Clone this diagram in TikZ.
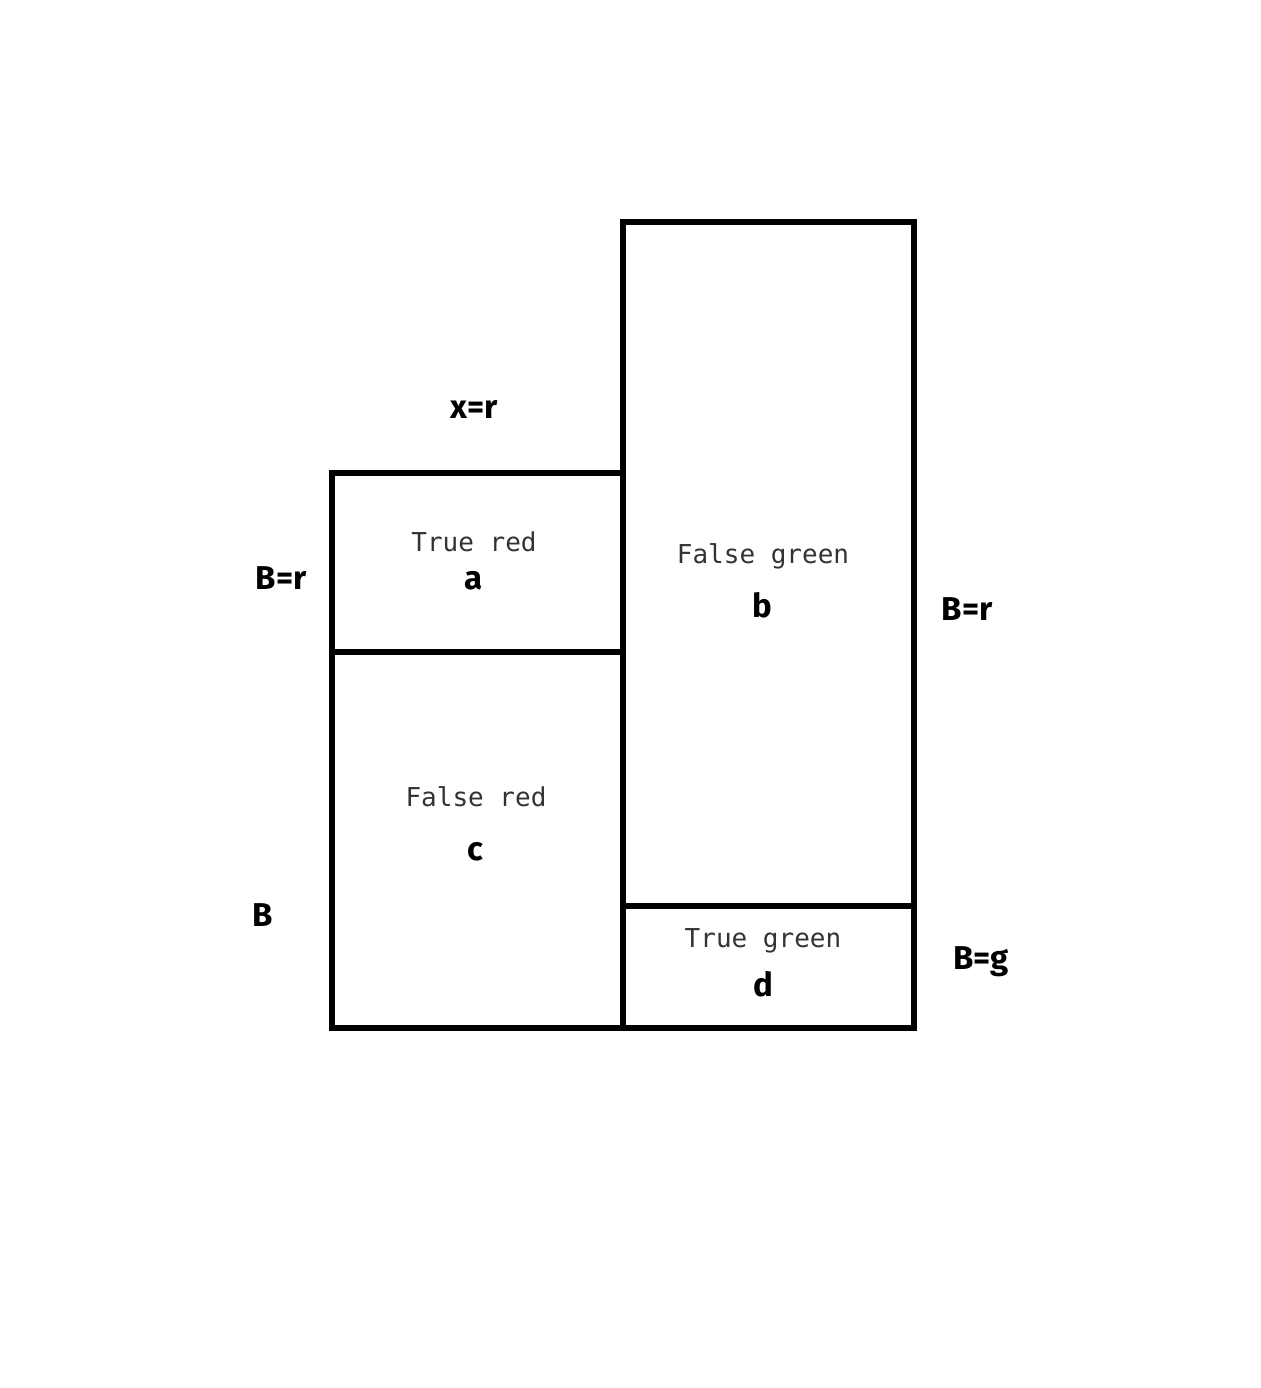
\documentclass[tikz,border=0pt]{standalone}
\usepackage{fontspec}
\newfontfamily\labelfont{Fira Sans}
\newfontfamily\cellfont{DejaVu Sans Mono}
\begin{document}
\begin{tikzpicture}[x=0.5pt,y=-0.5pt,
  cellbox/.style={line width=3pt, line join=miter},
  celltext/.style={anchor=base, inner sep=0pt, text=black!80, font=\cellfont\fontsize{13}{15}\selectfont},
  cellname/.style={anchor=base, inner sep=0pt, font=\labelfont\bfseries\fontsize{16.5}{19}\selectfont},
  sidelabel/.style={anchor=base, inner sep=0pt, font=\labelfont\bfseries\fontsize{16.5}{19}\selectfont}]
\useasboundingbox (0,0) rectangle (1260,1388);
% left column: x = r
\draw[cellbox] (332,473) rectangle (623,1028);
\draw[cellbox] (332,652) -- (623,652);
% right column
\draw[cellbox] (623,222) rectangle (914,1028);
\draw[cellbox] (623,906) -- (914,906);
% cells
\node[celltext] (ta) at (474,551) {True red};
\node[cellname] (a) at (474,589) {a};
\node[celltext] (tb) at (763,563) {False green};
\node[cellname] (b) at (762,617) {b};
\node[celltext] (tc) at (476,806) {False red};
\node[cellname] (c) at (475,860) {c};
\node[celltext] (td) at (763,947) {True green};
\node[cellname] (d) at (763,996) {d};
% margins
\node[sidelabel] (xr) at (474,418) {x=r};
\node[sidelabel] (br1) at (281,589) {B=r};
\node[sidelabel] (bb) at (263,926) {B};
\node[sidelabel] (br2) at (967,620) {B=r};
\node[sidelabel] (bg) at (981,969) {B=g};
\end{tikzpicture}
\end{document}
